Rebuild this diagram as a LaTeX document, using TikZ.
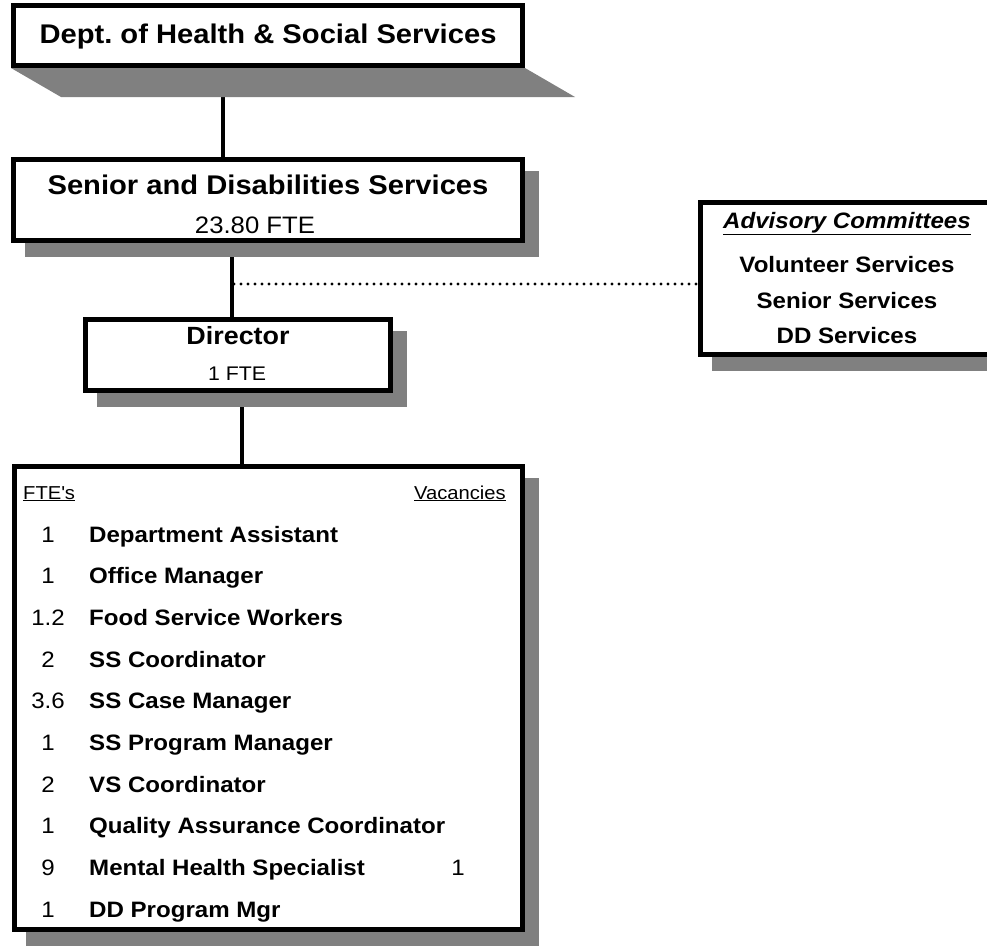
\documentclass[tikz,border=0pt]{standalone}
\usepackage{fontspec}
\setmainfont[FakeStretch=1.08]{Liberation Sans}
\definecolor{shadegray}{RGB}{128,128,128}
\tikzset{
  orgbox/.style={draw, line width=5pt, fill=white, inner sep=0pt},
  link/.style={line width=4pt},
  dotlink/.style={line width=3.4pt, line cap=round, dash pattern=on 0pt off 7pt},
  txt/.style={inner sep=0pt, anchor=base},
}
\newcommand{\bigbf}{\fontsize{27}{30}\selectfont\bfseries}
\newcommand{\midtxt}{\fontsize{22.3}{25}\selectfont}
\newcommand{\smalltxt}{\fontsize{18.7}{21}\selectfont}
% grey shadow behind a box
\newcommand{\dropshade}[1]{
  \fill[shadegray] ([shift={(14,14)}]#1.north west) rectangle ([shift={(14,14)}]#1.south east);
}
% one line of the staff list: index, FTE, title, baseline
\newcommand{\jobrow}[4]{
  \node[txt] (fte#1) at (48,{#4}) {\midtxt #2};
  \node[txt,anchor=base west] (job#1) at (89,{#4}) {\midtxt\bfseries #3};
}

\begin{document}
\begin{tikzpicture}[x=1pt,y=-1pt]
  \useasboundingbox (0,0) rectangle (987,950);
  \clip (0,0) rectangle (987,950);
  % boxes (placed first so the lines can use them)
  \node[orgbox,minimum width=509,minimum height=60] (dhss) at (268,35.5) {};
  \node[orgbox,minimum width=509,minimum height=81] (sds) at (268,200) {};
  \node[orgbox,minimum width=305,minimum height=71] (dir) at (238,355) {};
  \node[orgbox,minimum width=300,minimum height=152] (adv) at (850.5,278.5) {};
  \node[orgbox,minimum width=508,minimum height=463] (list) at (268.5,698) {};
  % connectors
  \draw[link] ([xshift=-45pt]dhss.south) -- ([xshift=-45pt]dhss.south |- sds.north);
  \draw[link] ([xshift=-6pt]dir.north) -- ([xshift=-6pt]dir.north |- sds.south);
  \draw[link] ([xshift=4pt]dir.south) -- ([xshift=4pt]dir.south |- list.north);
  \coordinate (tap) at (234,284);
  \draw[dotlink] (tap) -- (tap -| adv.west);
  % shadows
  \fill[shadegray] (dhss.south west) -- (dhss.south east) -- ([shift={(50,29)}]dhss.south east)
    -- ([shift={(50,29)}]dhss.south west) -- cycle;
  \dropshade{sds}
  \dropshade{dir}
  \dropshade{adv}
  \dropshade{list}
  % boxes again on top of the shadows
  \node[orgbox,minimum width=509,minimum height=60] at (dhss) {};
  \node[orgbox,minimum width=509,minimum height=81] at (sds) {};
  \node[orgbox,minimum width=305,minimum height=71] at (dir) {};
  \node[orgbox,minimum width=300,minimum height=152] at (adv) {};
  \node[orgbox,minimum width=508,minimum height=463] at (list) {};
  % texts
  \node[txt] (dhsstitle) at (268,44) {\bigbf Dept.\ of Health \& Social Services};
  \node[txt] (sdstitle) at (268,194) {\bigbf Senior and Disabilities Services};
  \node[txt] (sdsfte) at (255,233) {\fontsize{23.8}{26}\selectfont 23.80 FTE};
  \node[txt] (dirtitle) at (238,344) {\fontsize{24.9}{28}\selectfont\bfseries Director};
  \node[txt] (dirfte) at (237,380) {\fontsize{19.7}{22}\selectfont 1 FTE};
  \node[txt] (advtitle) at (847,228) {\midtxt\bfseries\itshape\underline{Advisory Committees}};
  \node[txt] (adv1) at (847,272) {\midtxt\bfseries Volunteer Services};
  \node[txt] (adv2) at (847,308) {\midtxt\bfseries Senior Services};
  \node[txt] (adv3) at (847,343) {\midtxt\bfseries DD Services};
  \node[txt,anchor=base west] (ftehead) at (23,499) {\smalltxt\underline{FTE\textquotesingle s}};
  \node[txt,anchor=base east] (vachead) at (506,499) {\smalltxt\underline{Vacancies}};
  \foreach \f/\j [count=\i] in {1/Department Assistant, 1/Office Manager,
      1.2/Food Service Workers, 2/SS Coordinator, 3.6/SS Case Manager,
      1/SS Program Manager, 2/VS Coordinator, 1/Quality Assurance Coordinator,
      9/Mental Health Specialist, 1/DD Program Mgr}{
    \jobrow{\i}{\f}{\j}{542+41.7*(\i-1)}
  }
  \node[txt] (vac9) at (458,{542+41.7*8}) {\midtxt 1};
\end{tikzpicture}
\end{document}
